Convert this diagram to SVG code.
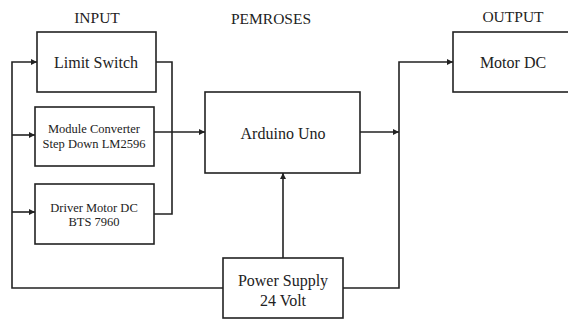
<svg xmlns="http://www.w3.org/2000/svg" width="568" height="320" viewBox="0 0 568 320">
<style>
.box{fill:#fff;stroke:#222;stroke-width:1.6}
.t{font-family:"Liberation Serif","Times New Roman",serif;fill:#222;text-anchor:middle}
.big{font-size:16px}
.sm{font-size:12.5px}
.ttl{font-size:15.5px}
.c{fill:none;stroke:#222;stroke-width:1.6}
</style>
<defs>
<marker id="ah" markerUnits="userSpaceOnUse" markerWidth="7" markerHeight="6" refX="6" refY="3" orient="auto">
<path d="M0,0 L6,3 L0,6 z" fill="#222"/>
</marker>
</defs>
<rect width="568" height="320" fill="#fff"/>
<text class="t ttl" x="97" y="23">INPUT</text>
<text class="t ttl" x="271" y="24">PEMROSES</text>
<text class="t ttl" x="513" y="22">OUTPUT</text>
<g id="limit">
<rect class="box" x="37" y="32" width="119" height="60"/>
<text class="t big" x="96" y="68">Limit Switch</text>
</g>
<g id="module">
<rect class="box" x="35" y="107" width="119" height="59"/>
<text class="t sm" x="94" y="133">Module Converter</text>
<text class="t sm" x="94" y="148">Step Down LM2596</text>
</g>
<g id="driver">
<rect class="box" x="35" y="184" width="119" height="60"/>
<text class="t sm" x="94" y="212">Driver Motor DC</text>
<text class="t sm" x="94" y="226">BTS 7960</text>
</g>
<g id="arduino">
<rect class="box" x="205" y="92" width="155" height="81"/>
<text class="t big" x="283" y="139">Arduino Uno</text>
</g>
<g id="power">
<rect class="box" x="223" y="258" width="120" height="60"/>
<text class="t big" x="283" y="286">Power Supply</text>
<text class="t big" x="283" y="306">24 Volt</text>
</g>
<g id="motor">
<rect class="box" x="453" y="32" width="130" height="60"/>
<text class="t big" x="513" y="68">Motor DC</text>
</g>
<g id="connectors">
<path class="c" d="M223,288 H12 V62 H37" marker-end="url(#ah)"/>
<path class="c" d="M12,135 H35" marker-end="url(#ah)"/>
<path class="c" d="M12,212 H35" marker-end="url(#ah)"/>
<path class="c" d="M156,62 H172 V214 H154"/>
<path class="c" d="M154,132 H205" marker-end="url(#ah)"/>
<path class="c" d="M283,258 V173" marker-end="url(#ah)"/>
<path class="c" d="M360,132 H399" marker-end="url(#ah)"/>
<path class="c" d="M343,288 H399 V62 H453" marker-end="url(#ah)"/>
</g>
</svg>
